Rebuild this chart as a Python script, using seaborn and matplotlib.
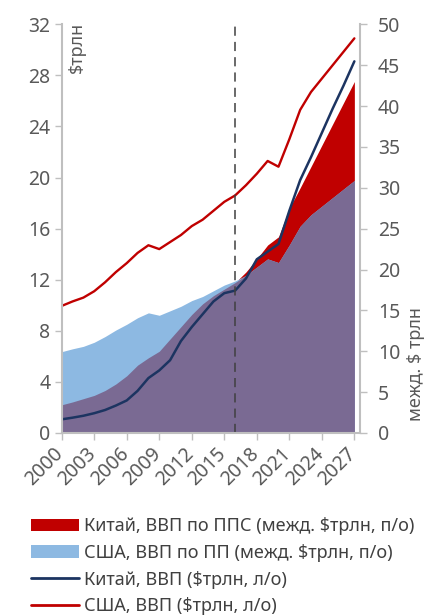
import matplotlib
matplotlib.use("Agg")
import matplotlib.pyplot as plt
import matplotlib.transforms as mtransforms
from matplotlib.patches import Patch
from matplotlib.lines import Line2D
import seaborn as sns
import pandas as pd
import numpy as np

# ==========================================
# Данные
# ==========================================
years = list(range(2000, 2028))

# ВВП, $трлн (левая ось)
usa_gdp = [9.95, 10.3, 10.6, 11.1, 11.8, 12.6, 13.3, 14.1, 14.7, 14.4,
           14.95, 15.5, 16.2, 16.7, 17.4, 18.1, 18.6, 19.4, 20.3, 21.3,
           20.85, 23.0, 25.3, 26.7, 27.75, 28.8, 29.85, 30.9]
china_gdp = [1.07, 1.2, 1.35, 1.55, 1.8, 2.15, 2.55, 3.3, 4.3, 4.9,
             5.7, 7.2, 8.3, 9.3, 10.3, 10.95, 11.15, 12.1, 13.6, 14.2,
             14.8, 17.4, 19.8, 21.6, 23.5, 25.4, 27.2, 29.1]

# ВВП по ППС, межд. $трлн (правая ось)
usa_ppp = [9.95, 10.3, 10.6, 11.1, 11.8, 12.6, 13.3, 14.1, 14.7, 14.4,
           14.95, 15.5, 16.2, 16.7, 17.4, 18.1, 18.6, 19.3, 20.3, 21.3,
           20.85, 23.0, 25.3, 26.7, 27.75, 28.8, 29.85, 30.9]
china_ppp = [3.45, 3.8, 4.2, 4.6, 5.2, 6.0, 7.0, 8.3, 9.2, 10.0,
             11.5, 13.0, 14.5, 15.8, 16.8, 17.6, 18.4, 19.7, 21.3, 23.0,
             24.0, 27.5, 30.0, 32.6, 35.2, 37.8, 40.4, 43.0]

split_year = 2016
xtick_years = list(range(2000, 2028, 3))

labels = [
    "Китай, ВВП по ППС (межд. $трлн, п/о)",
    "США, ВВП по ПП (межд. $трлн, п/о)",
    "Китай, ВВП ($трлн, л/о)",
    "США, ВВП ($трлн, л/о)",
]

# ==========================================
# Стиль
# ==========================================
sns.set_theme(style="white")
plt.rcParams["font.family"] = ["Noto Sans", "DejaVu Sans"]

RED = "#C00000"
LIGHT_BLUE = "#8DB9E2"
PURPLE = "#7A6A93"
NAVY = "#1C3461"
GRID_GRAY = "#BFBFBF"
TEXT_GRAY = "#595959"

df = pd.DataFrame({
    "year": years,
    "usa_gdp": usa_gdp,
    "china_gdp": china_gdp,
    "usa_ppp": usa_ppp,
    "china_ppp": china_ppp,
})
df["overlap"] = np.minimum(df["usa_ppp"], df["china_ppp"])

fig = plt.figure(figsize=(4.26, 6.16), dpi=100)
ax = fig.add_axes([61.7 / 426, 1 - 433 / 616, (360 - 61.7) / 426, (433 - 24.3) / 616])
ax2 = ax.twinx()

# области (правая ось)
ax2.fill_between(df["year"], 0, df["china_ppp"], color=RED, lw=0)
ax2.fill_between(df["year"], 0, df["usa_ppp"], color=LIGHT_BLUE, lw=0)
ax2.fill_between(df["year"], 0, df["overlap"], color=PURPLE, lw=0)
ax2.set_ylim(0, 50)
ax2.set_yticks(range(0, 51, 5))

# линии (левая ось)
sns.lineplot(data=df, x="year", y="usa_gdp", ax=ax, color=RED, lw=1.7)
sns.lineplot(data=df, x="year", y="china_gdp", ax=ax, color=NAVY, lw=1.8)
ax.axvline(split_year, color="#404040", lw=1.1, ls=(0, (6, 4)))

ax.set_zorder(ax2.get_zorder() + 1)
ax.patch.set_visible(False)

ax.set_xlim(2000, 2027.52)
ax.set_ylim(0, 32)
ax.set_yticks(range(0, 33, 4))
ax.set_xticks(xtick_years)
ax.set_xlabel("")
ax.set_ylabel("")

for s in ["top", "right"]:
    ax.spines[s].set_visible(False)
for s in ["top", "left", "bottom"]:
    ax2.spines[s].set_visible(False)
for sp in [ax.spines["left"], ax.spines["bottom"], ax2.spines["right"]]:
    sp.set_color(GRID_GRAY)
    sp.set_linewidth(1.5)

ax.tick_params(axis="both", which="both", direction="out", length=5, width=1,
               color=GRID_GRAY, labelcolor=TEXT_GRAY, labelsize=14, pad=3,
               left=True, bottom=True)
ax2.tick_params(axis="y", direction="out", length=5, width=1, color=GRID_GRAY,
                labelcolor=TEXT_GRAY, labelsize=14, pad=8, right=True)

offset = mtransforms.ScaledTranslation(6 / 100, 0, fig.dpi_scale_trans)
for lbl in ax.get_xticklabels():
    lbl.set_rotation(45)
    lbl.set_ha("right")
    lbl.set_transform(lbl.get_transform() + offset)

ax.text(0.022, 1.005, "$трлн", rotation=90, ha="left", va="top",
        transform=ax.transAxes, fontsize=13, color=TEXT_GRAY)
fig.text(416 / 426, 1 - 421 / 616, "межд. $ трлн", rotation=90,
         ha="center", va="bottom", fontsize=13, color=TEXT_GRAY)

handles = [
    Patch(facecolor=RED, edgecolor="none"),
    Patch(facecolor=LIGHT_BLUE, edgecolor="none"),
    Line2D([], [], color=NAVY, lw=2),
    Line2D([], [], color=RED, lw=2),
]
fig.legend(handles, labels, loc="upper left", bbox_to_anchor=(0.055, 0.172),
           frameon=False, fontsize=13, handlelength=2.7, handletextpad=0.25,
           labelspacing=0.48, labelcolor="#404040", borderaxespad=0)

fig.savefig("out.png", dpi=100)
